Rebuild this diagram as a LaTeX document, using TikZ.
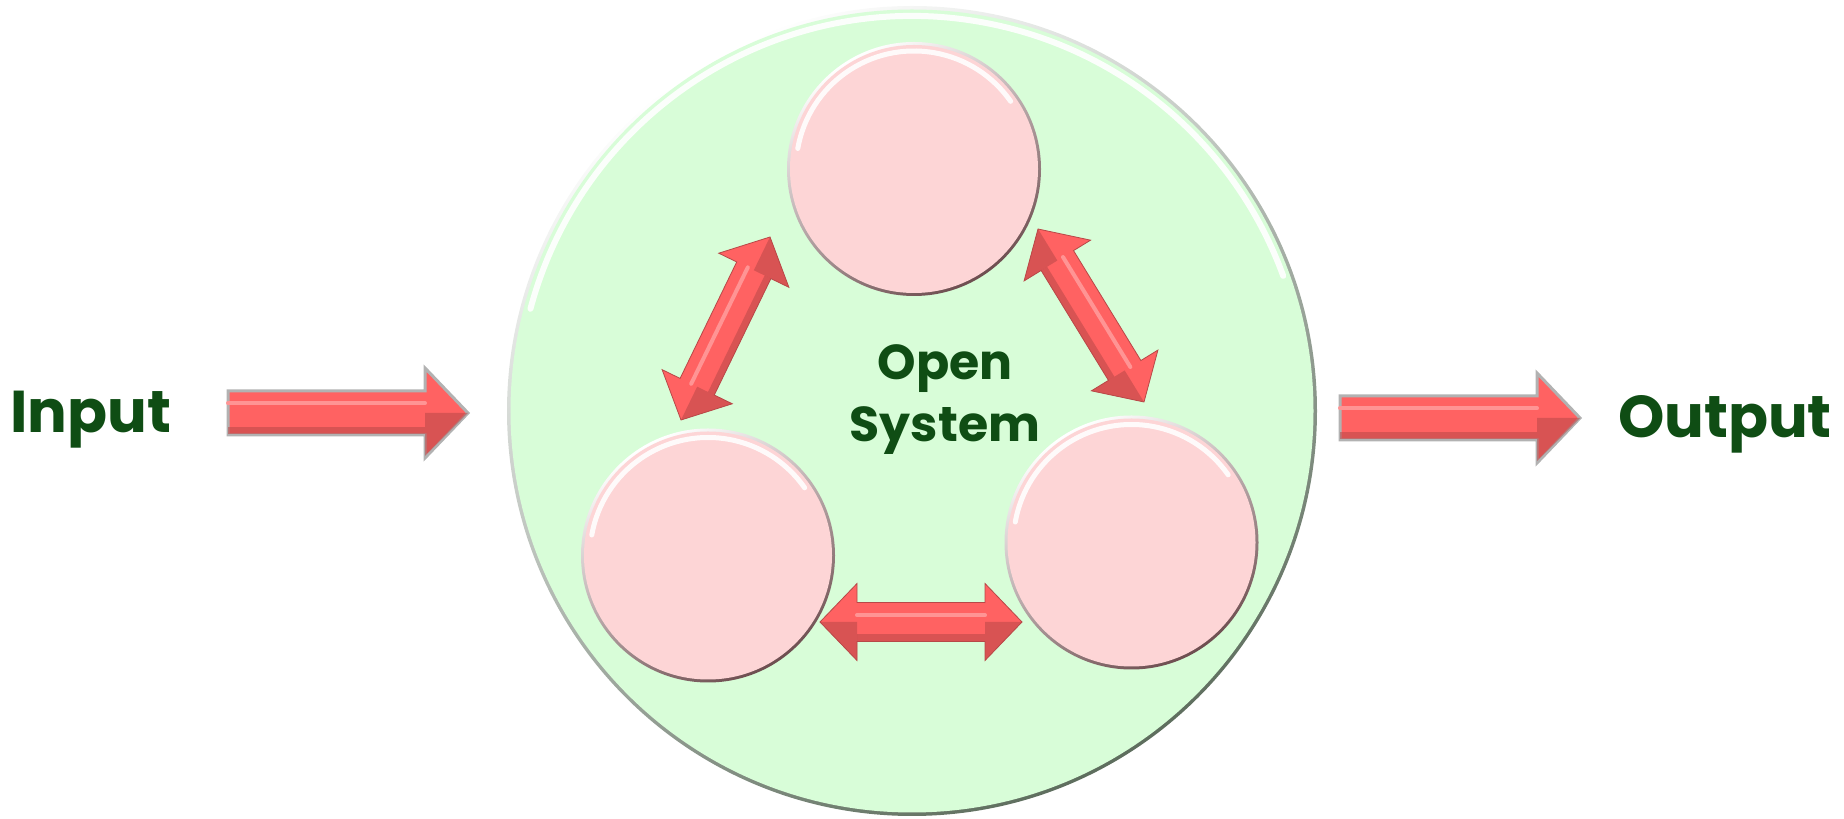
\documentclass[tikz,border=0pt]{standalone}
\usepackage{fontspec}
\newfontfamily\popb{Poppins Bold}
\usetikzlibrary{calc}
\definecolor{txt}{HTML}{0F4D14}
\definecolor{sysfill}{HTML}{D8FDD8}
\definecolor{sysdark}{HTML}{5E6E5E}
\definecolor{pinkfill}{HTML}{FDD5D6}
\definecolor{pinkdark}{HTML}{6E4E50}
\definecolor{arr}{HTML}{FF6262}
\definecolor{arrdark}{HTML}{B84848}
\definecolor{arrlight}{HTML}{FF9494}
\tikzset{
  lbl/.style={font=\popb\fontsize{29.5}{36}\selectfont, text=txt, anchor=base, inner sep=0pt},
  syslbl/.style={font=\popb\fontsize{24.5}{30}\selectfont, text=txt, anchor=base, inner sep=0pt},
  bigarrow/.style={fill=arr, draw=gray!60, line width=1.5pt, line join=miter},
  smallarrow/.style={fill=arr, draw=arrdark, line width=0.4pt},
  darkpart/.style={fill=arrdark, opacity=0.55},
  shinepart/.style={draw=arrlight, line width=2pt, line cap=round},
  highlight/.style={white, line cap=round, opacity=0.9}
}
\newcommand\sarrow[5]{%
  \coordinate (hb) at ($(#2)!#5!(#1)$);
  \path[bigarrow] ($(#1)!#3!90:(#2)$) -- ($(hb)!#3!90:(#2)$) -- ($(hb)!#4!90:(#2)$) -- (#2)
    -- ($(hb)!#4!-90:(#2)$) -- ($(hb)!#3!-90:(#2)$) -- ($(#1)!#3!-90:(#2)$) -- cycle;
  \fill[darkpart] ($(#1)!#3-0.4pt!-90:(#2)$) -- ($(hb)!#3-0.4pt!-90:(#2)$) -- ($(hb)!#3-4pt!-90:(#2)$) -- ($(#1)!#3-4pt!-90:(#2)$) -- cycle;
  \fill[darkpart] (#2) -- ($(hb)!#4-1pt!-90:(#2)$) -- (hb) -- cycle;
  \draw[shinepart] ($(#1)!0.45*#3!90:(#2)$) -- ($(hb)!0.45*#3!90:(#2)$);
}
\newcommand\darrow[5]{%
  \coordinate (ha) at ($(#1)!#5!(#2)$);
  \coordinate (hb) at ($(#2)!#5!(#1)$);
  \path[smallarrow] (#1) -- ($(ha)!#4!90:(#2)$) -- ($(ha)!#3!90:(#2)$)
    -- ($(hb)!#3!90:(#2)$) -- ($(hb)!#4!90:(#2)$) -- (#2) -- ($(hb)!#4!-90:(#2)$)
    -- ($(hb)!#3!-90:(#2)$) -- ($(ha)!#3!-90:(#2)$) -- ($(ha)!#4!-90:(#2)$) -- cycle;
  \fill[darkpart] ($(ha)!#3!-90:(#2)$) -- ($(hb)!#3!-90:(#2)$) -- ($(hb)!#3-3.5pt!-90:(#2)$) -- ($(ha)!#3-3.5pt!-90:(#2)$) -- cycle;
  \fill[darkpart] (#2) -- ($(hb)!#4!-90:(#2)$) -- (hb) -- cycle;
  \fill[darkpart] (#1) -- ($(ha)!#4!-90:(#2)$) -- (ha) -- cycle;
  \draw[shinepart] ($(ha)!0.35*#3!90:(#2)$) -- ($(hb)!0.35*#3!90:(#2)$);
}
\begin{document}
\begin{tikzpicture}[x=0.5pt, y=0.5pt]
\useasboundingbox (0,0) rectangle (1844,819);
% main system circle
\coordinate (sys) at (912,408);
\shade[top color=white, bottom color=sysdark, shading angle=30] (sys) circle (405);
\fill[sysfill] (sys) circle (401.5);
\draw[highlight, line width=3pt] ($(sys)+(165:395)$) arc (165:20:395);
% inner circles
\coordinate (c1) at (914,650);
\coordinate (c2) at (708,263.5);
\coordinate (c3) at (1131.5,276.5);
\foreach \c in {c1,c2,c3}{
  \shade[top color=white, bottom color=pinkdark, shading angle=30] (\c) circle (127);
  \fill[pinkfill] (\c) circle (124);
  \draw[highlight, line width=2.5pt] ($(\c)+(170:118)$) arc (170:35:118);
}
% labels
\node[lbl] (in) at (91,386) {Input};
\node[lbl] (out) at (1725,381) {Output};
\node[syslbl] (open) at (945,439) {Open};
\node[syslbl] (system) at (945,377) {System};
% input / output arrows
\coordinate (inT) at (228,406);
\coordinate (inH) at (468,406);
\coordinate (outT) at (1340,401);
\coordinate (outH) at (1580,401);
\sarrow{inT}{inH}{11pt}{22.5pt}{21.5pt}
\sarrow{outT}{outH}{11pt}{22.5pt}{21.5pt}
% double arrows between inner circles
\coordinate (l1) at (681,399);
\coordinate (l2) at (770,582);
\coordinate (r1) at (1144,417);
\coordinate (r2) at (1038,590);
\coordinate (b1) at (820,197);
\coordinate (b2) at (1022,197);
\darrow{l1}{l2}{9.5pt}{19.5pt}{18.5pt}
\darrow{r2}{r1}{9.5pt}{19.5pt}{18.5pt}
\darrow{b1}{b2}{9.75pt}{19.25pt}{18.5pt}
\end{tikzpicture}
\end{document}
